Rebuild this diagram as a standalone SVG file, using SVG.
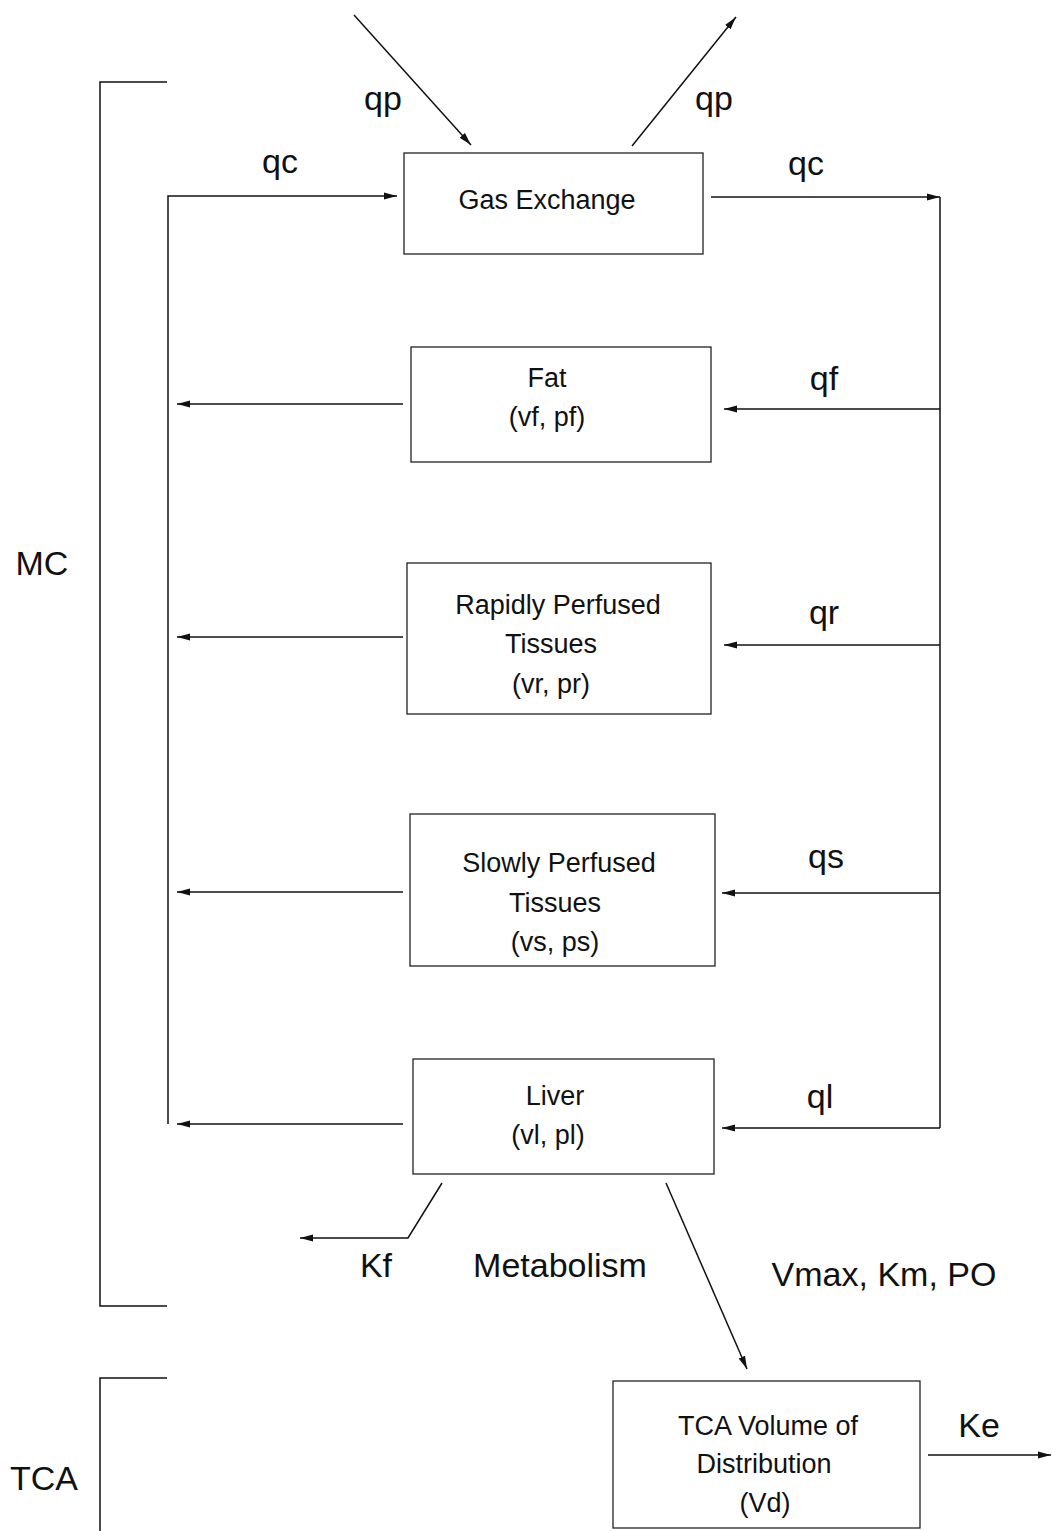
<svg xmlns="http://www.w3.org/2000/svg" width="1052" height="1531" viewBox="0 0 1052 1531">
<defs>
<marker id="ah" markerUnits="userSpaceOnUse" markerWidth="14" markerHeight="9" refX="13" refY="4.5" orient="auto">
<path d="M0,1 L13,4.5 L0,8 z" fill="#111"/>
</marker>
<style>
.box{fill:#fff;stroke:#222;stroke-width:1.3}
.ln{fill:none;stroke:#111;stroke-width:1.5}
.arr{fill:none;stroke:#111;stroke-width:1.5;marker-end:url(#ah)}
.bt{font-family:"Liberation Sans",Arial,sans-serif;font-size:27px;fill:#111;text-anchor:middle}
.lb{font-family:"Liberation Sans",Arial,sans-serif;font-size:34px;fill:#111;text-anchor:middle}
</style>
</defs>
<rect width="1052" height="1531" fill="#fff"/>

<g id="brackets">
<path class="ln" d="M167,82 H100 V1306 H167"/>
<path class="ln" d="M167,1378 H100 V1531"/>
</g>

<g id="connectors">
<line class="arr" x1="354" y1="15" x2="471" y2="145"/>
<line class="arr" x1="632" y1="146" x2="736" y2="17"/>
<path class="arr" d="M168,1124 V196 H397"/>
<line class="arr" x1="711" y1="197" x2="940" y2="197"/>
<line class="ln" x1="940" y1="197" x2="940" y2="1128"/>
<line class="arr" x1="940" y1="409" x2="724" y2="409"/>
<line class="arr" x1="940" y1="645" x2="724" y2="645"/>
<line class="arr" x1="940" y1="893" x2="722" y2="893"/>
<line class="arr" x1="940" y1="1128" x2="722" y2="1128"/>
<line class="arr" x1="403" y1="404" x2="177" y2="404"/>
<line class="arr" x1="403" y1="637" x2="177" y2="637"/>
<line class="arr" x1="403" y1="892" x2="177" y2="892"/>
<line class="arr" x1="403" y1="1124" x2="177" y2="1124"/>
<path class="arr" d="M442,1183 L408,1238 H300"/>
<line class="arr" x1="666" y1="1183" x2="747" y2="1369"/>
<line class="arr" x1="928" y1="1455" x2="1051" y2="1455"/>
</g>

<g id="gas-exchange">
<rect class="box" x="404" y="153" width="299" height="101"/>
<text class="bt" x="547" y="209">Gas Exchange</text>
</g>
<g id="fat">
<rect class="box" x="411" y="347" width="300" height="115"/>
<text class="bt" x="547" y="387">Fat</text>
<text class="bt" x="547" y="426">(vf, pf)</text>
</g>
<g id="rapidly-perfused">
<rect class="box" x="407" y="563" width="304" height="151"/>
<text class="bt" x="558" y="614">Rapidly Perfused</text>
<text class="bt" x="551" y="653">Tissues</text>
<text class="bt" x="551" y="693">(vr, pr)</text>
</g>
<g id="slowly-perfused">
<rect class="box" x="410" y="814" width="305" height="152"/>
<text class="bt" x="559" y="872">Slowly Perfused</text>
<text class="bt" x="555" y="912">Tissues</text>
<text class="bt" x="555" y="951">(vs, ps)</text>
</g>
<g id="liver">
<rect class="box" x="413" y="1059" width="301" height="115"/>
<text class="bt" x="555" y="1105">Liver</text>
<text class="bt" x="548" y="1144">(vl, pl)</text>
</g>
<g id="tca-volume">
<rect class="box" x="613" y="1381" width="307" height="147"/>
<text class="bt" x="768" y="1435">TCA Volume of</text>
<text class="bt" x="764" y="1473">Distribution</text>
<text class="bt" x="765" y="1512">(Vd)</text>
</g>

<g id="labels">
<text class="lb" x="383" y="110">qp</text>
<text class="lb" x="714" y="110">qp</text>
<text class="lb" x="280" y="173">qc</text>
<text class="lb" x="806" y="175">qc</text>
<text class="lb" x="824" y="390">qf</text>
<text class="lb" x="824" y="624">qr</text>
<text class="lb" x="826" y="868">qs</text>
<text class="lb" x="820" y="1108">ql</text>
<text class="lb" x="42" y="575">MC</text>
<text class="lb" x="44" y="1490">TCA</text>
<text class="lb" x="376" y="1277">Kf</text>
<text class="lb" x="560" y="1277">Metabolism</text>
<text class="lb" x="884" y="1286">Vmax, Km, PO</text>
<text class="lb" x="979" y="1437">Ke</text>
</g>
</svg>
